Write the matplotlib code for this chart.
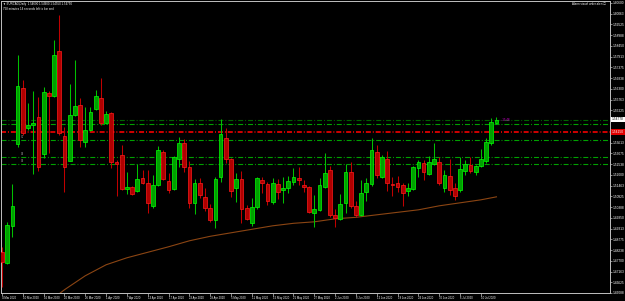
import numpy as np
import matplotlib
matplotlib.use('Agg')
import matplotlib.pyplot as plt

# EURCAD daily bars, 4 Mar 2020 .. 15 Jul 2020
opens = [1.4815, 1.4760, 1.4945, 1.5355, 1.5635, 1.5435, 1.5450, 1.5490, 1.5305, 1.5610,
         1.5595, 1.5820, 1.5395, 1.5270, 1.5500, 1.5550, 1.5365, 1.5425, 1.5530, 1.5585,
         1.5460, 1.5510, 1.5265, 1.5300, 1.5130, 1.5140, 1.5120, 1.5185, 1.5160, 1.5045,
         1.5150, 1.5315, 1.5170, 1.5130, 1.5280, 1.5360, 1.5240, 1.5060, 1.5160, 1.5090,
         1.5035, 1.4975, 1.5190, 1.5385, 1.5280, 1.5135, 1.5180, 1.5035, 1.4960, 1.5040,
         1.5175, 1.5155, 1.5065, 1.5155, 1.5125, 1.5135, 1.5165, 1.5185, 1.5150, 1.5140,
         1.5010, 1.5025, 1.5140, 1.5225, 1.5000, 1.4980, 1.5060, 1.5215, 1.5045, 1.5000,
         1.5115, 1.5155, 1.5315, 1.5190, 1.5280, 1.5155, 1.5160, 1.5150, 1.5120, 1.5130,
         1.5235, 1.5260, 1.5205, 1.5255, 1.5265, 1.5135, 1.5195, 1.5135, 1.5125, 1.5220,
         1.5250, 1.5215, 1.5245, 1.5270, 1.5360, 1.5460]
closes = [1.4765, 1.4950, 1.5045, 1.5645, 1.5410, 1.5450, 1.5460, 1.5240, 1.5615, 1.5595,
          1.5800, 1.5410, 1.5240, 1.5500, 1.5545, 1.5375, 1.5425, 1.5515, 1.5595, 1.5460,
          1.5505, 1.5265, 1.5255, 1.5130, 1.5140, 1.5105, 1.5180, 1.5160, 1.5060, 1.5150,
          1.5325, 1.5180, 1.5125, 1.5290, 1.5360, 1.5240, 1.5060, 1.5160, 1.5100, 1.5035,
          1.4975, 1.5180, 1.5405, 1.5280, 1.5120, 1.5180, 1.5030, 1.4980, 1.5040, 1.5185,
          1.5160, 1.5070, 1.5160, 1.5115, 1.5135, 1.5170, 1.5190, 1.5175, 1.5140, 1.5015,
          1.5030, 1.5150, 1.5210, 1.5000, 1.4985, 1.5055, 1.5215, 1.5045, 1.5000, 1.5110,
          1.5160, 1.5325, 1.5200, 1.5290, 1.5160, 1.5150, 1.5140, 1.5110, 1.5135, 1.5240,
          1.5265, 1.5215, 1.5265, 1.5280, 1.5160, 1.5200, 1.5125, 1.5095, 1.5230, 1.5255,
          1.5220, 1.5245, 1.5280, 1.5365, 1.5465, 1.5475]
highs = [1.4840, 1.4965, 1.5155, 1.5800, 1.5675, 1.5560, 1.5620, 1.5590, 1.5640, 1.5620,
         1.5875, 1.6000, 1.5440, 1.5655, 1.5775, 1.5585, 1.5540, 1.5540, 1.5625, 1.5685,
         1.5520, 1.5515, 1.5275, 1.5350, 1.5215, 1.5145, 1.5255, 1.5225, 1.5225, 1.5200,
         1.5345, 1.5325, 1.5210, 1.5295, 1.5390, 1.5380, 1.5270, 1.5180, 1.5185, 1.5135,
         1.5055, 1.5190, 1.5480, 1.5435, 1.5285, 1.5210, 1.5220, 1.5050, 1.5085, 1.5190,
         1.5190, 1.5165, 1.5185, 1.5180, 1.5190, 1.5195, 1.5235, 1.5240, 1.5175, 1.5145,
         1.5100, 1.5185, 1.5310, 1.5245, 1.5030, 1.5105, 1.5255, 1.5265, 1.5070, 1.5175,
         1.5185, 1.5385, 1.5350, 1.5300, 1.5320, 1.5190, 1.5195, 1.5160, 1.5160, 1.5245,
         1.5275, 1.5275, 1.5295, 1.5360, 1.5290, 1.5225, 1.5280, 1.5160, 1.5290, 1.5275,
         1.5290, 1.5250, 1.5330, 1.5385, 1.5485, 1.5490]
lows = [1.4640, 1.4755, 1.4890, 1.5340, 1.5400, 1.5425, 1.5205, 1.5220, 1.5285, 1.5310,
        1.5590, 1.5400, 1.5115, 1.5270, 1.5495, 1.5340, 1.5340, 1.5420, 1.5525, 1.5450,
        1.5455, 1.5235, 1.5095, 1.5125, 1.5105, 1.5100, 1.5115, 1.5155, 1.5010, 1.5035,
        1.5145, 1.5175, 1.5110, 1.5125, 1.5240, 1.5215, 1.5035, 1.5005, 1.5085, 1.5020,
        1.4965, 1.4935, 1.5165, 1.5260, 1.5090, 1.5065, 1.4960, 1.4975, 1.4945, 1.5030,
        1.5110, 1.5050, 1.5055, 1.5080, 1.5060, 1.5110, 1.5150, 1.5150, 1.5115, 1.5010,
        1.4940, 1.5020, 1.5135, 1.4990, 1.4940, 1.4975, 1.5010, 1.5035, 1.4990, 1.4995,
        1.5070, 1.5145, 1.5185, 1.5185, 1.5120, 1.5095, 1.5115, 1.5045, 1.5095, 1.5125,
        1.5190, 1.5175, 1.5200, 1.5250, 1.5150, 1.5115, 1.5100, 1.5075, 1.5115, 1.5200,
        1.5210, 1.5200, 1.5240, 1.5260, 1.5350, 1.5455]

# moving average (brown line), sampled every 4 bars
ma_bars = [10, 12, 16, 20, 24, 28, 32, 36, 40, 44, 48, 52, 56, 60, 64, 68, 72, 76, 80, 84, 88, 92, 95]
ma_vals = [1.4585, 1.4625, 1.4695, 1.4750, 1.4785, 1.48125, 1.4840, 1.4870, 1.48925, 1.4910,
           1.49275, 1.4945, 1.49575, 1.4965, 1.4980, 1.49875, 1.5000, 1.50125, 1.5025, 1.5045,
           1.5060, 1.5075, 1.5090]

# horizontal levels (price, colour)
levels = [1.5475, 1.5455, 1.5415, 1.5375, 1.5290, 1.5255]
level_colors = ['#006400', '#00a000', '#e00000', '#00a000', '#00a000', '#00a000']
level_tags = ['', '', '', 'S1', 'S2', 'S3']

date_labels = ['4 Mar 2020', '10 Mar 2020', '16 Mar 2020', '20 Mar 2020', '26 Mar 2020',
               '1 Apr 2020', '7 Apr 2020', '13 Apr 2020', '17 Apr 2020', '23 Apr 2020',
               '29 Apr 2020', '5 May 2020', '11 May 2020', '15 May 2020', '21 May 2020',
               '27 May 2020', '2 Jun 2020', '8 Jun 2020', '12 Jun 2020', '18 Jun 2020',
               '24 Jun 2020', '30 Jun 2020', '6 Jul 2020', '10 Jul 2020']

bid = 1.5477
alert_price = 1.5415

FONT = ['Liberation Sans', 'DejaVu Sans']
plt.rcParams['font.family'] = FONT
plt.rcParams['lines.scale_dashes'] = False
fig = plt.figure(figsize=(6.25, 3.01), dpi=100, facecolor='black')
W, H = 625.0, 301.0
ax = fig.add_axes([1 / W, 8 / H, 609 / W, 292 / H], facecolor='black')

n = len(opens)
x = np.arange(n)
o = np.array(opens)
c = np.array(closes)
up = c >= o

# wicks
ax.vlines(x[up], np.array(lows)[up], np.array(highs)[up], color='#00c000', lw=0.75, zorder=3)
ax.vlines(x[~up], np.array(lows)[~up], np.array(highs)[~up], color='#c00000', lw=0.75, zorder=3)
# bodies
bw = 0.72
ax.bar(x[up], np.maximum(c - o, 0.0002)[up], bottom=o[up], width=bw,
       color='#00a000', edgecolor='#00ff00', linewidth=0.5, zorder=4)
ax.bar(x[~up], (o - c)[~up], bottom=c[~up], width=bw,
       color='#b00000', edgecolor='#ff1a1a', linewidth=0.5, zorder=4)

ax.plot(ma_bars, ma_vals, color='#8b4513', lw=0.8, zorder=2)

for lv, col, tag in zip(levels, level_colors, level_tags):
    ax.axhline(lv, color=col, lw=0.8 if col != '#e00000' else 1.3,
               linestyle=(0, (3.6, 1.4, 0.7, 1.4)), zorder=1)
    if tag:
        ax.text(4, lv + 0.0003, tag, fontsize=1.8, color='#a0a0a0', va='bottom', ha='center')

ylo, yhi = 1.6075 - 293 / 2000, 1.6075 - 1 / 2000
ax.set_ylim(ylo, yhi)
ax.set_xlim((1 - 2) / 5.205, (610 - 2) / 5.205)

# price axis on the right (labels next to the bid / alert boxes are hidden)
yt = [1.6060 - k * 0.005375 for k in range(28)]
ax.yaxis.tick_right()
ax.set_yticks(yt)
ax.set_yticklabels(['' if k in (11, 12) else '%.5f' % v for k, v in enumerate(yt)])
ax.tick_params(axis='y', colors='#c0c0c0', labelcolor='white', labelsize=2.3,
               length=1.5, width=0.5, pad=0.6)
ax.set_xticks(x[::4])
ax.set_xticklabels(date_labels)
ax.tick_params(axis='x', colors='#c0c0c0', labelcolor='white', labelsize=2.0,
               length=2, width=0.5, pad=0.4)
for lbl in ax.get_xticklabels():
    lbl.set_ha('left')
for s in ax.spines.values():
    s.set_color('#c0c0c0')
    s.set_linewidth(0.7)

# price labels in the axis
ax.text(1.0035, bid, '%.5f' % bid, transform=ax.get_yaxis_transform(), fontsize=2.3,
        color='black', va='center', ha='left',
        bbox=dict(boxstyle='square,pad=0.2', fc='white', ec='none'), clip_on=False)
ax.text(1.0035, alert_price, '%.5f' % alert_price, transform=ax.get_yaxis_transform(),
        fontsize=2.3, color='white', va='center', ha='left',
        bbox=dict(boxstyle='square,pad=0.2', fc='#e00000', ec='none'), clip_on=False)

# header texts
ax.text(0.004, 0.995, '\u25bc EURCAD,Daily  1.54600 1.54900 1.54550 1.54750',
        transform=ax.transAxes, fontsize=2.1, color='white', va='top', ha='left')
ax.text(0.004, 0.978, '758 minutes 14 seconds left to bar end',
        transform=ax.transAxes, fontsize=2.1, color='white', va='top', ha='left')
ax.text(0.994, 0.995, 'Alarm visual order alert \u2610', transform=ax.transAxes,
        fontsize=2.1, color='white', va='top', ha='right')
ax.text(95.6, 1.5476, '\u2219\u2219 15:48', fontsize=2.1, color='#e000e0', va='center', ha='left')

fig.savefig('out.png', dpi=100, facecolor='black')
